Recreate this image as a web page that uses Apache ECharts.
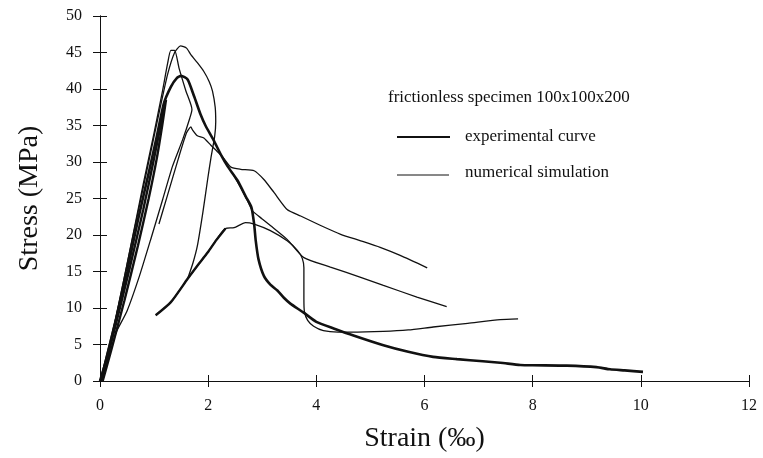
<html>
<head>
<meta charset="utf-8">
<script src="https://cdn.jsdelivr.net/npm/echarts@6/dist/echarts.min.js"></script>
</head>
<body style="margin:0">
<div id="chart-main" style="width:763px;height:458px;"></div>

<script type="text/javascript">
	// 应力-应变曲线数据 (strain ‰, stress MPa)
	var xTicks = [0, 2, 4, 6, 8, 10, 12];
	var yTicks = [0, 5, 10, 15, 20, 25, 30, 35, 40, 45, 50];

	// experimental curves (thick)
	var expMain = [[0,0],[0.1,2.5],[0.3,8.5],[0.5,15],[0.7,22],[0.9,28.5],[1.05,33.5],[1.18,38],[1.31,40.3],[1.42,41.5],[1.5,41.8],[1.62,41.3],[1.74,39],[1.86,36.5],[1.95,35],[2.1,33],[2.25,30.8],[2.36,29.4],[2.54,27.5],[2.7,25.2],[2.8,23.8],[2.85,21.5],[2.88,19.2],[2.93,16.7],[3.03,14.4],[3.15,13.2],[3.28,12.4],[3.4,11.4],[3.52,10.6],[3.76,9.4],[4.0,8.1],[4.32,7.2],[4.7,6.2],[5.24,4.9],[5.7,4.0],[6.16,3.3],[6.6,3.0],[7.08,2.7],[7.4,2.5],[7.77,2.2],[8.0,2.15],[8.63,2.1],[9.18,1.9],[9.43,1.6],[9.7,1.45],[10.04,1.25]];
	var expLoop1 = [[0.05,0],[0.2,4],[0.45,11],[0.7,18.5],[0.9,25],[1.05,30.5],[1.15,35],[1.22,38.5]];
	var expLoop2 = [[0.02,0],[0.25,6.5],[0.55,15.5],[0.8,23.5],[1.0,30.5],[1.12,35],[1.2,38]];
	var expRise = [[1.03,9.0],[1.31,10.8],[1.62,14.0],[1.8,15.8],[1.99,17.6],[2.15,19.3],[2.32,20.9]];

	// numerical simulation curves (thin)
	var numA = [[0,0],[0.3,9],[0.6,19.5],[0.9,30],[1.1,37],[1.25,42],[1.38,45],[1.49,45.9],[1.6,45.6],[1.68,44.7],[1.8,43.6],[1.92,42.4],[2.02,41],[2.08,39.7],[2.13,37.5],[2.14,35.5],[2.12,33.5],[2.05,30.5],[1.99,27.6],[1.9,23],[1.8,18.5],[1.72,16.2],[1.62,14.0]];
	var numB = [[0,0],[0.2,5.5],[0.5,16],[0.8,27],[1.0,34],[1.15,39.5],[1.25,43.5],[1.31,45.3],[1.38,45.3],[1.46,42.9],[1.59,39.7],[1.7,37.2],[1.66,36],[1.53,33.1],[1.34,29.4],[1.16,24.9],[0.95,19.7],[0.73,14.4],[0.5,9.6],[0.3,6.7],[0.23,4.9],[0.12,2.5],[0,0]];
	var numC = [[1.09,21.5],[1.25,25.5],[1.45,30.5],[1.6,34.0],[1.68,34.8],[1.71,34.4],[1.8,33.6],[1.92,33.3],[2.05,32.3],[2.2,31.2],[2.3,30.4],[2.42,29.3],[2.6,29.0],[2.85,28.8],[3.03,27.6],[3.22,25.8],[3.46,23.5],[3.71,22.6],[4.08,21.3],[4.45,20.1],[4.82,19.2],[5.18,18.3],[5.55,17.2],[6.05,15.5]];
	var numD = [[2.45,28.5],[2.6,26.5],[2.72,24.8],[2.82,23.3],[3.0,22.2],[3.15,21.3],[3.46,19.4],[3.77,16.9],[4.26,15.6],[4.82,14.2],[5.24,13.1],[5.86,11.5],[6.41,10.2]];
	var numE = [[1.03,9.0],[1.31,10.8],[1.62,14.0],[1.99,17.6],[2.32,20.9],[2.48,21.0],[2.69,21.7],[2.85,21.5],[3.15,20.6],[3.46,19.2],[3.65,17.9],[3.74,16.8],[3.77,15.5],[3.77,11.3],[3.78,9.5],[3.84,8.3],[3.95,7.5],[4.13,6.9],[4.4,6.7],[4.63,6.7],[5.24,6.8],[5.7,7.0],[6.16,7.4],[6.8,7.9],[7.4,8.4],[7.73,8.5]];

	var font = '"Liberation Serif", "DejaVu Serif", serif';
	var ink = '#111';

	function curve(data, width) {
		return {
			type: 'line',
			data: data,
			showSymbol: false,
			smooth: 0.2,
			lineStyle: { color: ink, width: width },
			silent: true
		};
	}

	var myChart = echarts.init(document.getElementById('chart-main'));
	var baseX = { type: 'value', min: 0, max: 12, interval: 2, splitLine: { show: false } };
	var baseY = { type: 'value', min: 0, max: 50, interval: 5, splitLine: { show: false } };

	var option = {
		animation: false,
		grid: { left: 100, right: 14, top: 16, bottom: 76 },
		xAxis: [
			Object.assign({}, baseX, {
				position: 'bottom',
				name: 'Strain (‰)',
				nameLocation: 'middle',
				nameGap: 44,
				nameTextStyle: { fontFamily: font, fontSize: 28, color: ink },
				axisLine: { lineStyle: { color: ink, width: 1 } },
				axisTick: { length: 6, lineStyle: { color: ink } },
				axisLabel: { fontFamily: font, fontSize: 16, color: ink, margin: 17 }
			}),
			Object.assign({}, baseX, {
				position: 'bottom',
				offset: 0,
				axisLine: { show: true, lineStyle: { color: ink, width: 1 } },
				axisTick: { show: true, inside: true, length: 6, lineStyle: { color: ink } },
				axisLabel: { show: false }
			})
		],
		yAxis: [
			Object.assign({}, baseY, {
				position: 'left',
				name: 'Stress (MPa)',
				nameLocation: 'middle',
				nameGap: 56,
				nameTextStyle: { fontFamily: font, fontSize: 28, color: ink },
				axisLine: { show: true, lineStyle: { color: ink, width: 1 } },
				axisTick: { show: true, length: 7, lineStyle: { color: ink } },
				axisLabel: { fontFamily: font, fontSize: 16, color: ink, margin: 18 }
			}),
			Object.assign({}, baseY, {
				position: 'left',
				offset: 0,
				axisLine: { show: true, lineStyle: { color: ink, width: 1 } },
				axisTick: { show: true, inside: true, length: 7, lineStyle: { color: ink } },
				axisLabel: { show: false }
			})
		],
		graphic: [
			{ type: 'text', left: 388, top: 89, style: { text: 'frictionless specimen 100x100x200', fontFamily: font, fontSize: 17, fill: ink } },
			{ type: 'line', shape: { x1: 397, y1: 137, x2: 450, y2: 137 }, style: { stroke: ink, lineWidth: 2.2 } },
			{ type: 'text', left: 465, top: 128, style: { text: 'experimental curve', fontFamily: font, fontSize: 17, fill: ink } },
			{ type: 'line', shape: { x1: 397, y1: 175, x2: 449, y2: 175 }, style: { stroke: ink, lineWidth: 1 } },
			{ type: 'text', left: 465, top: 164, style: { text: 'numerical simulation', fontFamily: font, fontSize: 17, fill: ink } }
		],
		series: [
			curve(expLoop1, 2.4),
			curve(expLoop2, 2.4),
			curve(expRise, 2.4),
			curve(expMain, 2.6),
			curve(numA, 1.3),
			curve(numB, 1.3),
			curve(numC, 1.3),
			curve(numD, 1.3),
			curve(numE, 1.3)
		]
	};

	myChart.setOption(option);
</script>
</body>
</html>
